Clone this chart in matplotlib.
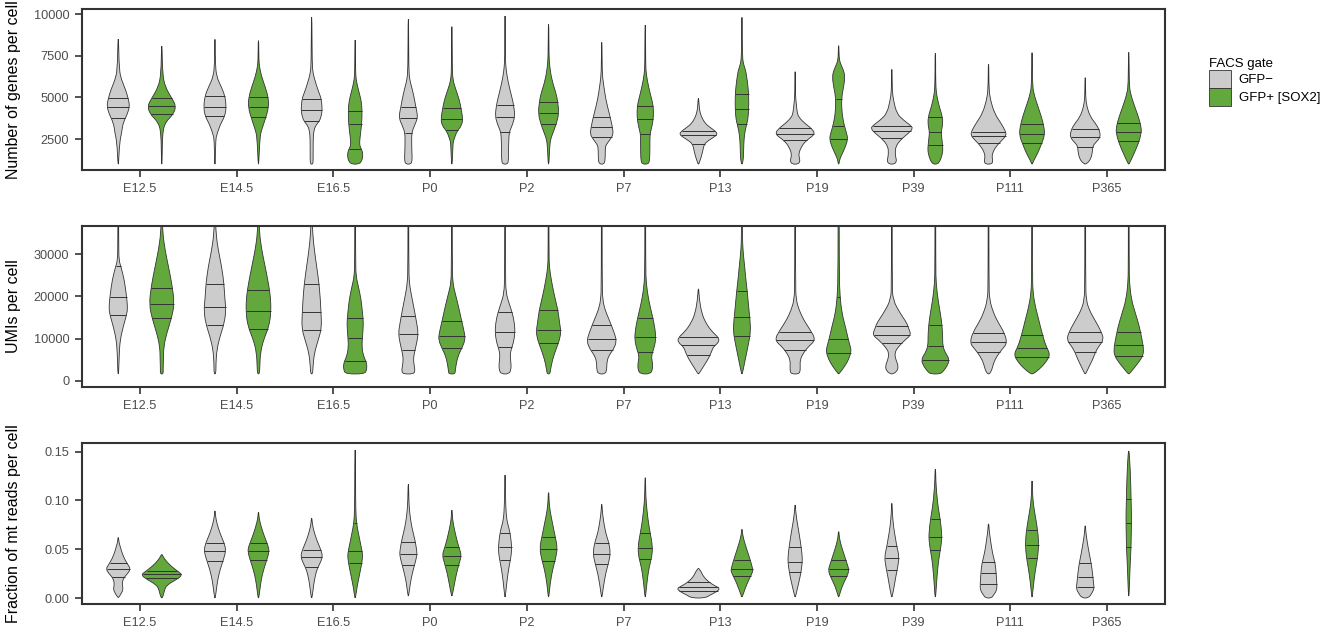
import numpy as np
import matplotlib
matplotlib.use('Agg')
import matplotlib.pyplot as plt
from matplotlib.path import Path
from matplotlib.patches import PathPatch, Patch

plt.rcParams['font.family'] = ['Liberation Sans', 'DejaVu Sans']

stages = ['E12.5', 'E14.5', 'E16.5', 'P0', 'P2', 'P7', 'P13', 'P19', 'P39', 'P111', 'P365']

# violin outlines: (value, half width of the density in category units), bottom to top
genes_neg = [
    [(1000, .003), (2300, .014), (2950, .037), (3440, .048), (4040, .097), (4480, .117), (4840, .107), (5440, .078), (6040, .034), (6640, .01), (8500, .003)],
    [(1000, .003), (2500, .008), (2740, .018), (3380, .055), (3880, .103), (4440, .117), (5100, .103), (5640, .065), (6240, .017), (7000, .004), (8480, .003)],
    [(1000, .01), (1150, .016), (2500, .015), (2950, .022), (3280, .037), (3600, .083), (3920, .1), (4240, .11), (4920, .1), (5240, .078), (5840, .043), (6440, .014), (7000, .005), (9800, .003)],
    [(1000, .025), (1200, .04), (1800, .036), (2400, .034), (2900, .036), (3300, .062), (3740, .095), (4100, .09), (4400, .078), (4840, .065), (5440, .043), (6040, .014), (6700, .004), (9680, .003)],
    [(1000, .02), (1150, .036), (2000, .036), (2600, .04), (2950, .045), (3400, .08), (3900, .102), (4480, .09), (4840, .078), (5640, .043), (6300, .02), (6840, .008), (7500, .003), (9880, .003)],
    [(1000, .02), (1200, .036), (2000, .036), (2200, .05), (2500, .09), (2800, .12), (3200, .11), (3500, .1), (4040, .078), (4840, .043), (5840, .017), (6500, .004), (8300, .003)],
    [(1000, .003), (1150, .012), (1450, .03), (1800, .045), (2200, .06), (2400, .1), (2600, .155), (2800, .2), (3000, .17), (3200, .12), (3440, .07), (3840, .03), (4240, .01), (4940, .003)],
    [(1000, .03), (1150, .05), (1350, .045), (1600, .036), (2000, .06), (2400, .11), (2800, .21), (3140, .17), (3440, .1), (3800, .04), (4040, .022), (4800, .008), (5300, .003), (6540, .003)],
    [(1000, .03), (1200, .05), (1400, .04), (1700, .035), (2040, .04), (2440, .086), (2840, .17), (3140, .22), (3340, .19), (3640, .12), (4040, .05), (4840, .017), (5400, .004), (6680, .003)],
    [(1000, .03), (1150, .045), (1400, .037), (1640, .04), (2040, .075), (2440, .14), (2740, .186), (3040, .17), (3440, .13), (4040, .062), (4840, .02), (5500, .004), (7000, .003)],
    [(1000, .003), (1150, .04), (1450, .065), (1800, .075), (2100, .08), (2300, .11), (2600, .155), (2940, .152), (3340, .12), (3840, .052), (4440, .017), (5000, .004), (6180, .003)],
]
genes_neg_q = [(3750, 4400, 4950), (3880, 4440, 5100), (3610, 4240, 4920), (2890, 3740, 4400),
               (2950, 3840, 4540), (2640, 3200, 3840), (2200, 2740, 3000), (2440, 2800, 3140),
               (2540, 2980, 3280), (2280, 2700, 2950), (2050, 2600, 3100)]

genes_pos = [
    [(1000, .003), (2500, .006), (3170, .018), (3400, .035), (3650, .06), (4000, .12), (4480, .148), (4940, .105), (5640, .034), (6440, .008), (8080, .003)],
    [(1000, .003), (2630, .015), (3060, .033), (3600, .065), (4400, .107), (5040, .1), (5640, .069), (6300, .03), (6800, .012), (7200, .004), (8400, .003)],
    [(1000, .035), (1150, .065), (1450, .08), (1750, .075), (1950, .06), (2150, .045), (2600, .05), (3400, .068), (4240, .072), (4840, .062), (5440, .034), (6040, .01), (6600, .004), (8440, .003)],
    [(1000, .004), (2300, .012), (2440, .02), (2950, .05), (3300, .1), (3700, .114), (4340, .095), (4840, .078), (5440, .043), (6040, .01), (6800, .004), (9240, .003)],
    [(1000, .004), (2100, .012), (2500, .022), (2840, .043), (3400, .08), (4040, .107), (4740, .095), (5240, .078), (6040, .034), (6840, .012), (7500, .004), (9400, .003)],
    [(1000, .03), (1200, .045), (1800, .048), (2400, .048), (2840, .05), (3240, .069), (3840, .086), (4440, .083), (4840, .069), (5640, .034), (6400, .01), (7000, .004), (9340, .003)],
    [(1000, .003), (1300, .015), (2000, .018), (2500, .022), (2900, .03), (3300, .045), (3700, .062), (4300, .07), (5000, .07), (5500, .065), (6000, .055), (6600, .04), (7000, .015), (7500, .004), (9800, .003)],
    [(1000, .003), (1300, .012), (1600, .035), (2040, .07), (2500, .095), (2840, .083), (3440, .052), (4240, .031), (5040, .031), (5640, .052), (6240, .066), (6640, .05), (7040, .017), (7400, .004), (8100, .003)],
    [(1000, .02), (1150, .045), (1450, .065), (1800, .078), (2100, .075), (2500, .068), (2940, .06), (3300, .075), (3800, .076), (4440, .041), (5040, .017), (5500, .006), (6500, .003), (7640, .003)],
    [(1000, .003), (1250, .02), (1640, .058), (2240, .1), (2740, .131), (3240, .124), (3840, .097), (4440, .062), (5240, .017), (5800, .005), (7680, .003)],
    [(1000, .003), (1200, .02), (1640, .055), (2240, .1), (2880, .131), (3240, .128), (3840, .1), (4440, .062), (5240, .017), (5800, .005), (7700, .003)],
]
genes_pos_q = [(3980, 4480, 4940), (3800, 4400, 5040), (1900, 3380, 4200), (3020, 3700, 4340),
               (3380, 4040, 4740), (2800, 3720, 4480), (3380, 4300, 5180), (2530, 3290, 4900),
               (2120, 2940, 3800), (2280, 2780, 3380), (2380, 2900, 3440)]

umis_neg = [
    [(1600, .004), (6500, .01), (9700, .02), (12900, .052), (15600, .086), (17200, .097), (20000, .086), (24000, .062), (27000, .028), (28500, .008), (32000, .004), (60000, .003)],
    [(1600, .01), (4200, .01), (7400, .02), (10500, .052), (13700, .097), (16800, .114), (19200, .103), (23100, .093), (27100, .069), (31000, .034), (35000, .01), (40000, .004), (60000, .003)],
    [(1600, .01), (3400, .014), (6600, .028), (9700, .069), (12500, .103), (16000, .097), (19200, .09), (23100, .076), (27100, .052), (31000, .028), (35000, .01), (40000, .004), (60000, .003)],
    [(1600, .05), (2200, .069), (3400, .062), (5000, .052), (6600, .062), (8900, .086), (11300, .103), (13700, .086), (16800, .062), (20000, .034), (23100, .01), (27000, .004), (60000, .003)],
    [(1600, .04), (2600, .062), (4200, .062), (5800, .052), (7400, .062), (8900, .086), (11300, .103), (13700, .097), (16000, .076), (18400, .041), (20800, .01), (25000, .004), (60000, .003)],
    [(1600, .035), (2600, .052), (4200, .052), (5800, .069), (7400, .12), (9300, .155), (11300, .131), (14500, .076), (16800, .034), (19200, .01), (23000, .004), (60000, .003)],
    [(1600, .004), (3400, .052), (5000, .097), (6600, .131), (8100, .155), (9000, .207), (10100, .214), (11700, .138), (13700, .076), (16000, .034), (19200, .01), (21790, .003)],
    [(1600, .035), (2200, .052), (3400, .052), (5000, .052), (6600, .086), (8100, .138), (9700, .214), (12100, .155), (14500, .086), (16800, .041), (19200, .01), (23000, .004), (60000, .003)],
    [(1600, .01), (2200, .052), (3400, .069), (5000, .041), (6600, .028), (8100, .069), (9700, .138), (10900, .2), (12500, .172), (13700, .155), (16000, .086), (19200, .01), (23000, .004), (60000, .003)],
    [(1600, .01), (2600, .035), (4200, .052), (5800, .086), (7400, .138), (8900, .193), (11300, .165), (13700, .103), (16000, .052), (19200, .01), (23000, .004), (60000, .003)],
    [(1600, .004), (3400, .041), (5000, .076), (6600, .103), (8100, .138), (9700, .193), (11700, .165), (14500, .097), (16800, .041), (19200, .01), (23000, .004), (60000, .003)],
]
umis_neg_q = [(15560, 19820, 27160), (13120, 17370, 23060), (11930, 16270, 22980), (7360, 10980, 15400),
              (7910, 11460, 16190), (7360, 9880, 13270), (6170, 8460, 10270), (7360, 9560, 11540),
              (8930, 10820, 13040), (6720, 9090, 11300), (6800, 9170, 11460)]

umis_pos = [
    [(1600, .015), (2600, .014), (5000, .017), (8100, .02), (11300, .052), (14800, .1), (18100, .13), (22300, .11), (27100, .069), (31000, .034), (35000, .01), (40000, .004), (60000, .003)],
    [(1600, .01), (3400, .014), (6600, .02), (9700, .052), (12900, .11), (16400, .13), (20000, .124), (23100, .103), (27100, .069), (31000, .034), (35000, .01), (40000, .004), (60000, .003)],
    [(1600, .097), (2600, .12), (4200, .12), (5800, .086), (8100, .069), (10500, .076), (13700, .086), (16000, .076), (19200, .062), (22300, .034), (24700, .01), (28000, .004), (60000, .003)],
    [(1600, .03), (2200, .035), (3400, .041), (5800, .062), (7700, .103), (9700, .138), (11300, .131), (14000, .103), (17600, .069), (20800, .034), (23100, .01), (27000, .004), (60000, .003)],
    [(1600, .014), (2600, .02), (5000, .041), (7400, .076), (9700, .114), (11700, .128), (13700, .114), (16800, .097), (20000, .062), (23900, .028), (27000, .008), (30000, .004), (60000, .003)],
    [(1600, .05), (2600, .076), (4200, .076), (5800, .062), (7400, .086), (9700, .11), (12100, .103), (15200, .076), (19200, .034), (23100, .01), (27000, .004), (60000, .003)],
    [(1600, .003), (3400, .02), (5800, .041), (8900, .069), (11700, .09), (14500, .083), (17600, .069), (21200, .055), (23900, .041), (27100, .028), (31000, .01), (35000, .004), (60000, .003)],
    [(1600, .003), (3400, .062), (5000, .103), (7000, .131), (8100, .12), (10100, .097), (12900, .069), (16000, .034), (20000, .014), (25000, .006), (60000, .004)],
    [(1600, .05), (2200, .08), (3400, .12), (5000, .148), (6600, .103), (8300, .076), (10500, .076), (13200, .069), (16000, .052), (19200, .028), (23100, .008), (27000, .004), (60000, .003)],
    [(1600, .01), (2600, .069), (4200, .138), (6200, .19), (8100, .145), (11300, .103), (14500, .069), (17600, .034), (20800, .01), (25000, .004), (60000, .003)],
    [(1600, .004), (2600, .041), (4200, .097), (5800, .145), (7400, .155), (9700, .138), (12900, .11), (16000, .069), (19200, .028), (23100, .008), (27000, .004), (60000, .003)],
]
umis_pos_q = [(14770, 18090, 22110), (12250, 16510, 21480), (4670, 10120, 14850), (7750, 10510, 14060),
              (8930, 12010, 16820), (6800, 10350, 14850), (10510, 15090, 21240), (6570, 9960, 19820),
              (5000, 8300, 13190), (5620, 7670, 10750), (5930, 8460, 11460)]

mt_neg = [
    [(0.0005, .003), (0.004, .028), (0.009, .052), (0.0135, .04), (0.02, .05), (0.0253, .1), (0.03, .127), (0.034, .1), (0.0424, .052), (0.0526, .02), (0.058, .006), (0.062, .003)],
    [(0.0, .003), (0.008, .014), (0.0184, .028), (0.0287, .052), (0.0389, .086), (0.0485, .114), (0.056, .097), (0.0663, .052), (0.0765, .02), (0.084, .006), (0.0892, .003)],
    [(0.0, .003), (0.008, .014), (0.0184, .028), (0.0287, .052), (0.0355, .086), (0.0424, .114), (0.0492, .097), (0.0594, .052), (0.0697, .02), (0.077, .006), (0.0817, .003)],
    [(0.002, .003), (0.015, .02), (0.0253, .041), (0.0355, .069), (0.0441, .09), (0.0492, .086), (0.0594, .069), (0.0731, .034), (0.0868, .014), (0.1, .005), (0.1165, .003)],
    [(0.001, .003), (0.018, .02), (0.032, .041), (0.0424, .062), (0.0509, .069), (0.0594, .062), (0.0663, .052), (0.0714, .041), (0.08, .017), (0.095, .006), (0.126, .003)],
    [(0.001, .003), (0.0116, .017), (0.0253, .041), (0.0355, .069), (0.0451, .09), (0.056, .076), (0.0663, .041), (0.08, .017), (0.09, .005), (0.096, .003)],
    [(0.0, .07), (0.003, .12), (0.0065, .19), (0.0099, .224), (0.0123, .172), (0.0167, .103), (0.0219, .052), (0.027, .028), (0.0304, .003)],
    [(0.001, .003), (0.0116, .028), (0.0219, .052), (0.0321, .069), (0.0406, .076), (0.0526, .062), (0.0663, .041), (0.08, .017), (0.09, .005), (0.0953, .003)],
    [(0.001, .003), (0.0116, .024), (0.0219, .041), (0.0321, .062), (0.0424, .076), (0.0526, .052), (0.0594, .041), (0.0731, .017), (0.088, .005), (0.097, .003)],
    [(0.0, .03), (0.003, .052), (0.008, .086), (0.015, .086), (0.0253, .079), (0.0355, .069), (0.0458, .041), (0.0594, .02), (0.07, .006), (0.076, .003)],
    [(0.0, .034), (0.0048, .069), (0.0099, .093), (0.015, .086), (0.0253, .076), (0.0355, .062), (0.0458, .041), (0.0594, .017), (0.069, .005), (0.074, .003)],
]
mt_neg_q = [(0.0219, 0.0297, 0.0362), (0.0376, 0.0482, 0.0567), (0.0321, 0.042, 0.0495), (0.0335, 0.0454, 0.0577),
            (0.0389, 0.052, 0.067), (0.0349, 0.0451, 0.056), (0.0075, 0.0109, 0.016), (0.0263, 0.0372, 0.052),
            (0.0287, 0.0413, 0.0536), (0.014, 0.0253, 0.0365), (0.0116, 0.0219, 0.0355)]

mt_pos = [
    [(0.0, .003), (0.003, .017), (0.0082, .028), (0.0133, .052), (0.0191, .155), (0.0236, .214), (0.027, .172), (0.032, .103), (0.039, .034), (0.0447, .003)],
    [(0.0, .003), (0.008, .014), (0.0184, .028), (0.0287, .052), (0.0389, .086), (0.0475, .11), (0.0526, .103), (0.0629, .062), (0.0731, .028), (0.082, .006), (0.0878, .003)],
    [(0.0, .003), (0.0116, .02), (0.0219, .041), (0.0321, .062), (0.0406, .076), (0.0458, .076), (0.056, .055), (0.0663, .034), (0.0765, .014), (0.09, .006), (0.12, .004), (0.1517, .003)],
    [(0.002, .003), (0.015, .028), (0.0253, .048), (0.0355, .076), (0.0441, .1), (0.0509, .076), (0.0594, .052), (0.0731, .02), (0.082, .006), (0.09, .003)],
    [(0.001, .003), (0.015, .017), (0.0287, .041), (0.0389, .069), (0.0509, .093), (0.0629, .069), (0.0765, .041), (0.09, .014), (0.1, .005), (0.108, .003)],
    [(0.001, .003), (0.0184, .02), (0.0321, .041), (0.0424, .069), (0.0526, .076), (0.0663, .052), (0.0765, .034), (0.0902, .017), (0.105, .005), (0.1233, .003)],
    [(0.001, .003), (0.0099, .034), (0.0184, .069), (0.027, .114), (0.0304, .11), (0.0389, .086), (0.0492, .052), (0.0594, .02), (0.066, .006), (0.0704, .003)],
    [(0.001, .003), (0.0116, .034), (0.0201, .076), (0.028, .11), (0.0355, .086), (0.0458, .052), (0.056, .02), (0.063, .006), (0.068, .003)],
    [(0.001, .003), (0.0116, .01), (0.0253, .02), (0.0389, .034), (0.0492, .052), (0.0594, .066), (0.0663, .066), (0.08, .052), (0.0936, .028), (0.1073, .014), (0.12, .005), (0.132, .003)],
    [(0.001, .003), (0.0184, .02), (0.0321, .041), (0.0424, .059), (0.0543, .069), (0.0663, .062), (0.08, .041), (0.0936, .017), (0.105, .006), (0.12, .003)],
    [(0.002, .003), (0.0219, .01), (0.0389, .017), (0.0526, .024), (0.0663, .026), (0.0772, .028), (0.0868, .028), (0.1015, .024), (0.121, .02), (0.1415, .01), (0.1507, .003)],
]
mt_pos_q = [(0.0201, 0.0246, 0.028), (0.0386, 0.0482, 0.0567), (0.0362, 0.0482, 0.0765), (0.0338, 0.0434, 0.0526),
            (0.0382, 0.0502, 0.0629), (0.0403, 0.0516, 0.0663), (0.0225, 0.0294, 0.0389), (0.0225, 0.0294, 0.0389),
            (0.0492, 0.0629, 0.0806), (0.0406, 0.0543, 0.0697), (0.0526, 0.0772, 0.1015)]

GRAY = '#cccccc'
GREEN = '#62a83c'
DARK = '#333333'
DODGE = 0.225


def violin(ax, c, prof, quants, color):
    v = np.array([p[0] for p in prof], float)
    d = np.array([p[1] for p in prof], float)
    pts = np.column_stack([np.concatenate([c + d, (c - d)[::-1]]),
                           np.concatenate([v, v[::-1]])])
    mids = (pts + np.roll(pts, -1, axis=0)) / 2
    verts = [mids[-1]]
    codes = [Path.MOVETO]
    for i in range(len(pts)):
        verts += [pts[i], mids[i]]
        codes += [Path.CURVE3, Path.CURVE3]
    ax.add_patch(PathPatch(Path(verts, codes), facecolor=color, edgecolor=DARK,
                           lw=0.6, zorder=2))
    # right-hand side of the smoothed outline, to size the quantile lines
    t = np.linspace(0, 1, 15)[:, None]
    side = []
    for i in range(len(v)):
        p0, p1, p2 = mids[i - 1], pts[i], mids[i]
        side.append((1 - t) ** 2 * p0 + 2 * (1 - t) * t * p1 + t ** 2 * p2)
    side = np.vstack(side)
    for q in quants:
        half = np.interp(q, side[:, 1], side[:, 0]) - c
        ax.plot([c - half, c + half], [q, q], color=DARK, lw=0.7, zorder=3,
                solid_capstyle='butt')


panels = [
    (genes_neg, genes_neg_q, genes_pos, genes_pos_q, 'Number of genes per cell',
     (648, 10300), [2500, 5000, 7500, 10000], '{:.0f}'),
    (umis_neg, umis_neg_q, umis_pos, umis_pos_q, 'UMIs per cell',
     (-1490, 36700), [0, 10000, 20000, 30000], '{:.0f}'),
    (mt_neg, mt_neg_q, mt_pos, mt_pos_q, 'Fraction of mt reads per cell',
     (-0.00615, 0.1589), [0.0, 0.05, 0.10, 0.15], '{:.2f}'),
]

fig = plt.figure(figsize=(13.29, 6.33), dpi=100)
W, H = 1329, 633
for k, (neg, neg_q, pos, pos_q, ylabel, ylim, yticks, fmt) in enumerate(panels):
    top = [9, 226, 443][k]
    ax = fig.add_axes([82 / W, 1 - (top + 161) / H, 1083 / W, 161 / H])
    ax.set_xlim(0.4, 11.6)
    ax.set_ylim(*ylim)
    for i in range(len(stages)):
        violin(ax, i + 1 - DODGE, neg[i], neg_q[i], GRAY)
        violin(ax, i + 1 + DODGE, pos[i], pos_q[i], GREEN)
    ax.set_xticks(range(1, len(stages) + 1))
    ax.set_xticklabels(stages)
    ax.set_yticks(yticks)
    ax.set_yticklabels([fmt.format(y) for y in yticks])
    ax.tick_params(axis='both', length=4.7, width=1.2, color=DARK, labelsize=9.2,
                   labelcolor='#4d4d4d', pad=4.5)
    for s in ax.spines.values():
        s.set_linewidth(1.5)
        s.set_color(DARK)
    ax.set_ylabel(ylabel, fontsize=11.5, color='black')
    ax.yaxis.set_label_coords(-0.056, 0.5)

handles = [Patch(facecolor=GRAY, edgecolor=DARK, lw=0.6),
           Patch(facecolor=GREEN, edgecolor=DARK, lw=0.6)]
fig.legend(handles, ['GFP\u2212', 'GFP+ [SOX2]'], title='FACS gate', loc='upper left',
           bbox_to_anchor=(1209 / W, 1 - 58 / H), frameon=False, fontsize=9.5,
           title_fontsize=9.5, handlelength=1.7, handleheight=1.7, labelspacing=0.0,
           handletextpad=0.55, borderpad=0, borderaxespad=0, alignment='left')

fig.savefig('out.png', dpi=100)
